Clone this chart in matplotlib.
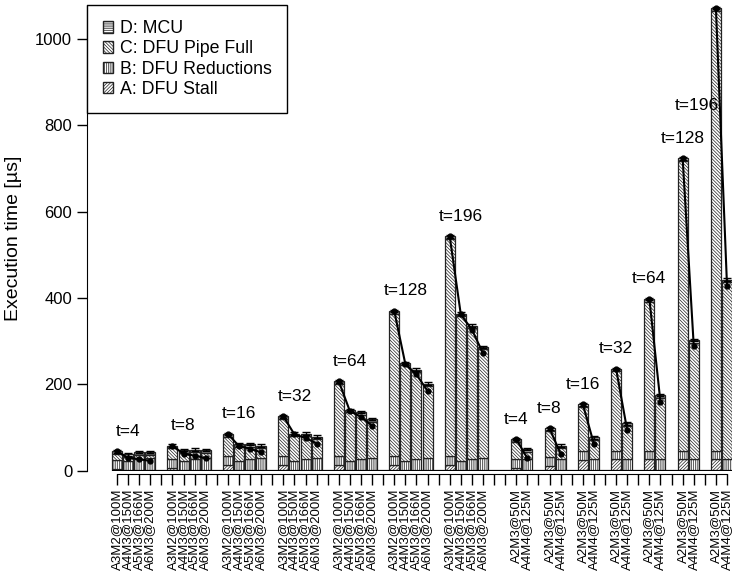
import numpy as np
import matplotlib.pyplot as plt
from matplotlib.patches import Patch

plt.rcParams['font.family'] = ['Liberation Sans', 'DejaVu Sans']
plt.rcParams['hatch.linewidth'] = 0.5

threads = [4, 8, 16, 32, 64, 128, 196]

# first series: four configurations per thread count
configs_a = ['A3M2@100M', 'A4M3@150M', 'A5M3@166M', 'A6M3@200M']
stall_a = [[3, 0, 0, 0], [6, 0, 0, 0], [13, 0, 0, 0], [13, 0, 0, 0],
           [13, 0, 0, 0], [13, 0, 0, 0], [13, 0, 0, 0]]
reduce_a = [[21, 22, 27, 30], [21, 22, 27, 30], [21, 22, 27, 30], [21, 22, 27, 30],
            [21, 22, 27, 30], [21, 22, 27, 30], [21, 22, 27, 30]]
pipe_a = [[15, 10, 10, 7], [25, 20, 16, 12], [45, 33, 29, 22], [86, 58, 53, 43],
          [167, 113, 103, 84], [330, 222, 201, 166], [503, 336, 303, 251]]
mcu_a = [[6, 6, 6, 6], [6, 6, 6, 6], [6, 6, 6, 6], [6, 6, 6, 6],
         [6, 6, 6, 6], [6, 6, 6, 6], [6, 6, 6, 6]]
est_a = [[45, 30, 27, 22.5], [58, 39, 35, 29], [85, 57, 51, 42.5], [126, 84, 76, 63],
         [207, 138, 125, 104], [370, 247, 223, 185], [543, 362, 327, 272]]

# second series: two configurations per thread count
configs_b = ['A2M3@50M', 'A4M4@125M']
stall_b = [[6, 0], [12, 0], [25, 0], [26, 0], [26, 0], [26, 0], [26, 0]]
reduce_b = [[20, 27], [20, 27], [20, 27], [20, 27], [20, 27], [20, 27], [20, 27]]
pipe_b = [[41, 17], [60, 25], [103, 44], [184, 77], [346, 142], [672, 270], [1020, 410]]
mcu_b = [[6, 6], [6, 6], [6, 6], [6, 6], [6, 6], [6, 6], [6, 6]]
est_b = [[73, 29], [98, 39], [154, 62], [236, 94], [398, 159], [724, 290], [1072, 429]]

names = ['A: DFU Stall', 'B: DFU Reductions', 'C: DFU Pipe Full', 'D: MCU']
hatches = ['/' * 10, '|' * 9, '\\' * 10, '-' * 9]
edge = '#222222'
ymax = 1079

fig = plt.figure(figsize=(7.32, 5.76), dpi=100)
ax = fig.add_axes([0.1195, 0.1828, 0.8805, 0.8085])

sections = [(configs_a, stall_a, reduce_a, pipe_a, mcu_a, est_a),
            (configs_b, stall_b, reduce_b, pipe_b, mcu_b, est_b)]

slot = 0
label_pos, label_txt = [], []
for configs, stall, red, pipe, mcu, est in sections:
    n = len(configs)
    for g, t in enumerate(threads):
        xs = np.arange(slot, slot + n)
        bottom = np.zeros(n)
        for part, h in zip([stall[g], red[g], pipe[g], mcu[g]], hatches):
            ax.bar(xs, part, 0.9, bottom=bottom, facecolor='white',
                   edgecolor=edge, linewidth=0.9, hatch=h, zorder=2)
            bottom += np.array(part)
        ax.errorbar(xs, bottom, yerr=3, fmt='none', ecolor='black',
                    elinewidth=1, capsize=3, capthick=1, zorder=4)
        ax.plot(xs, est[g], color='black', lw=1.5, marker='o', ms=3.5, zorder=5)

        # thread count above the first bar of the group
        ty = bottom[0] + 36
        if ty < ymax - 20:
            ax.text(slot + (n - 1) / 2 - 0.5, ty, 't=%d' % t, ha='center',
                    va='baseline', fontsize=12.5)
        else:
            ax.text(slot + 0.3, 835, 't=%d' % t, ha='right',
                    va='baseline', fontsize=12.5)

        label_pos.append(slot + (n - 1) / 2)
        label_txt.append('\n'.join(configs))
        slot += n + 1
    slot += 1

last = slot - 3
ax.hlines(0, -0.45, last + 0.45, color='black', lw=1.6, zorder=3)

ax.set_xlim(-2.66, last + 0.45)
ax.set_ylim(0, ymax)

for s in ['top', 'right']:
    ax.spines[s].set_visible(False)
ax.spines['bottom'].set_position(('outward', 2.5))
ax.spines['bottom'].set_bounds(0, last)

ax.set_xticks(np.arange(0, last + 1), minor=True)
ax.tick_params(axis='x', which='minor', length=8, width=1, direction='out')
ax.set_xticks(label_pos)
ax.set_xticklabels(label_txt, rotation=90, fontsize=9.5, linespacing=0.88,
                   multialignment='right')
ax.tick_params(axis='x', which='major', length=0, pad=10.5)

ax.set_yticks([0, 200, 400, 600, 800, 1000])
ax.tick_params(axis='y', length=7, width=1, labelsize=12, pad=4)
ax.set_ylabel('Execution time [µs]', fontsize=14, va='center')
ax.yaxis.set_label_coords(-0.1148, 0.5)

handles = [Patch(facecolor='white', edgecolor=edge, hatch=hatches[i], label=names[i])
           for i in [3, 2, 1, 0]]
leg = ax.legend(handles=handles, loc='upper left', bbox_to_anchor=(0, 1),
                borderaxespad=0, fancybox=False, framealpha=1, fontsize=12.8,
                handlelength=0.6, handleheight=0.6, handletextpad=0.4,
                labelspacing=0.18, borderpad=0.85)
leg.get_frame().set_edgecolor('black')
leg.get_frame().set_linewidth(1)
leg.set_zorder(10)

fig.savefig('out.png', dpi=100)
